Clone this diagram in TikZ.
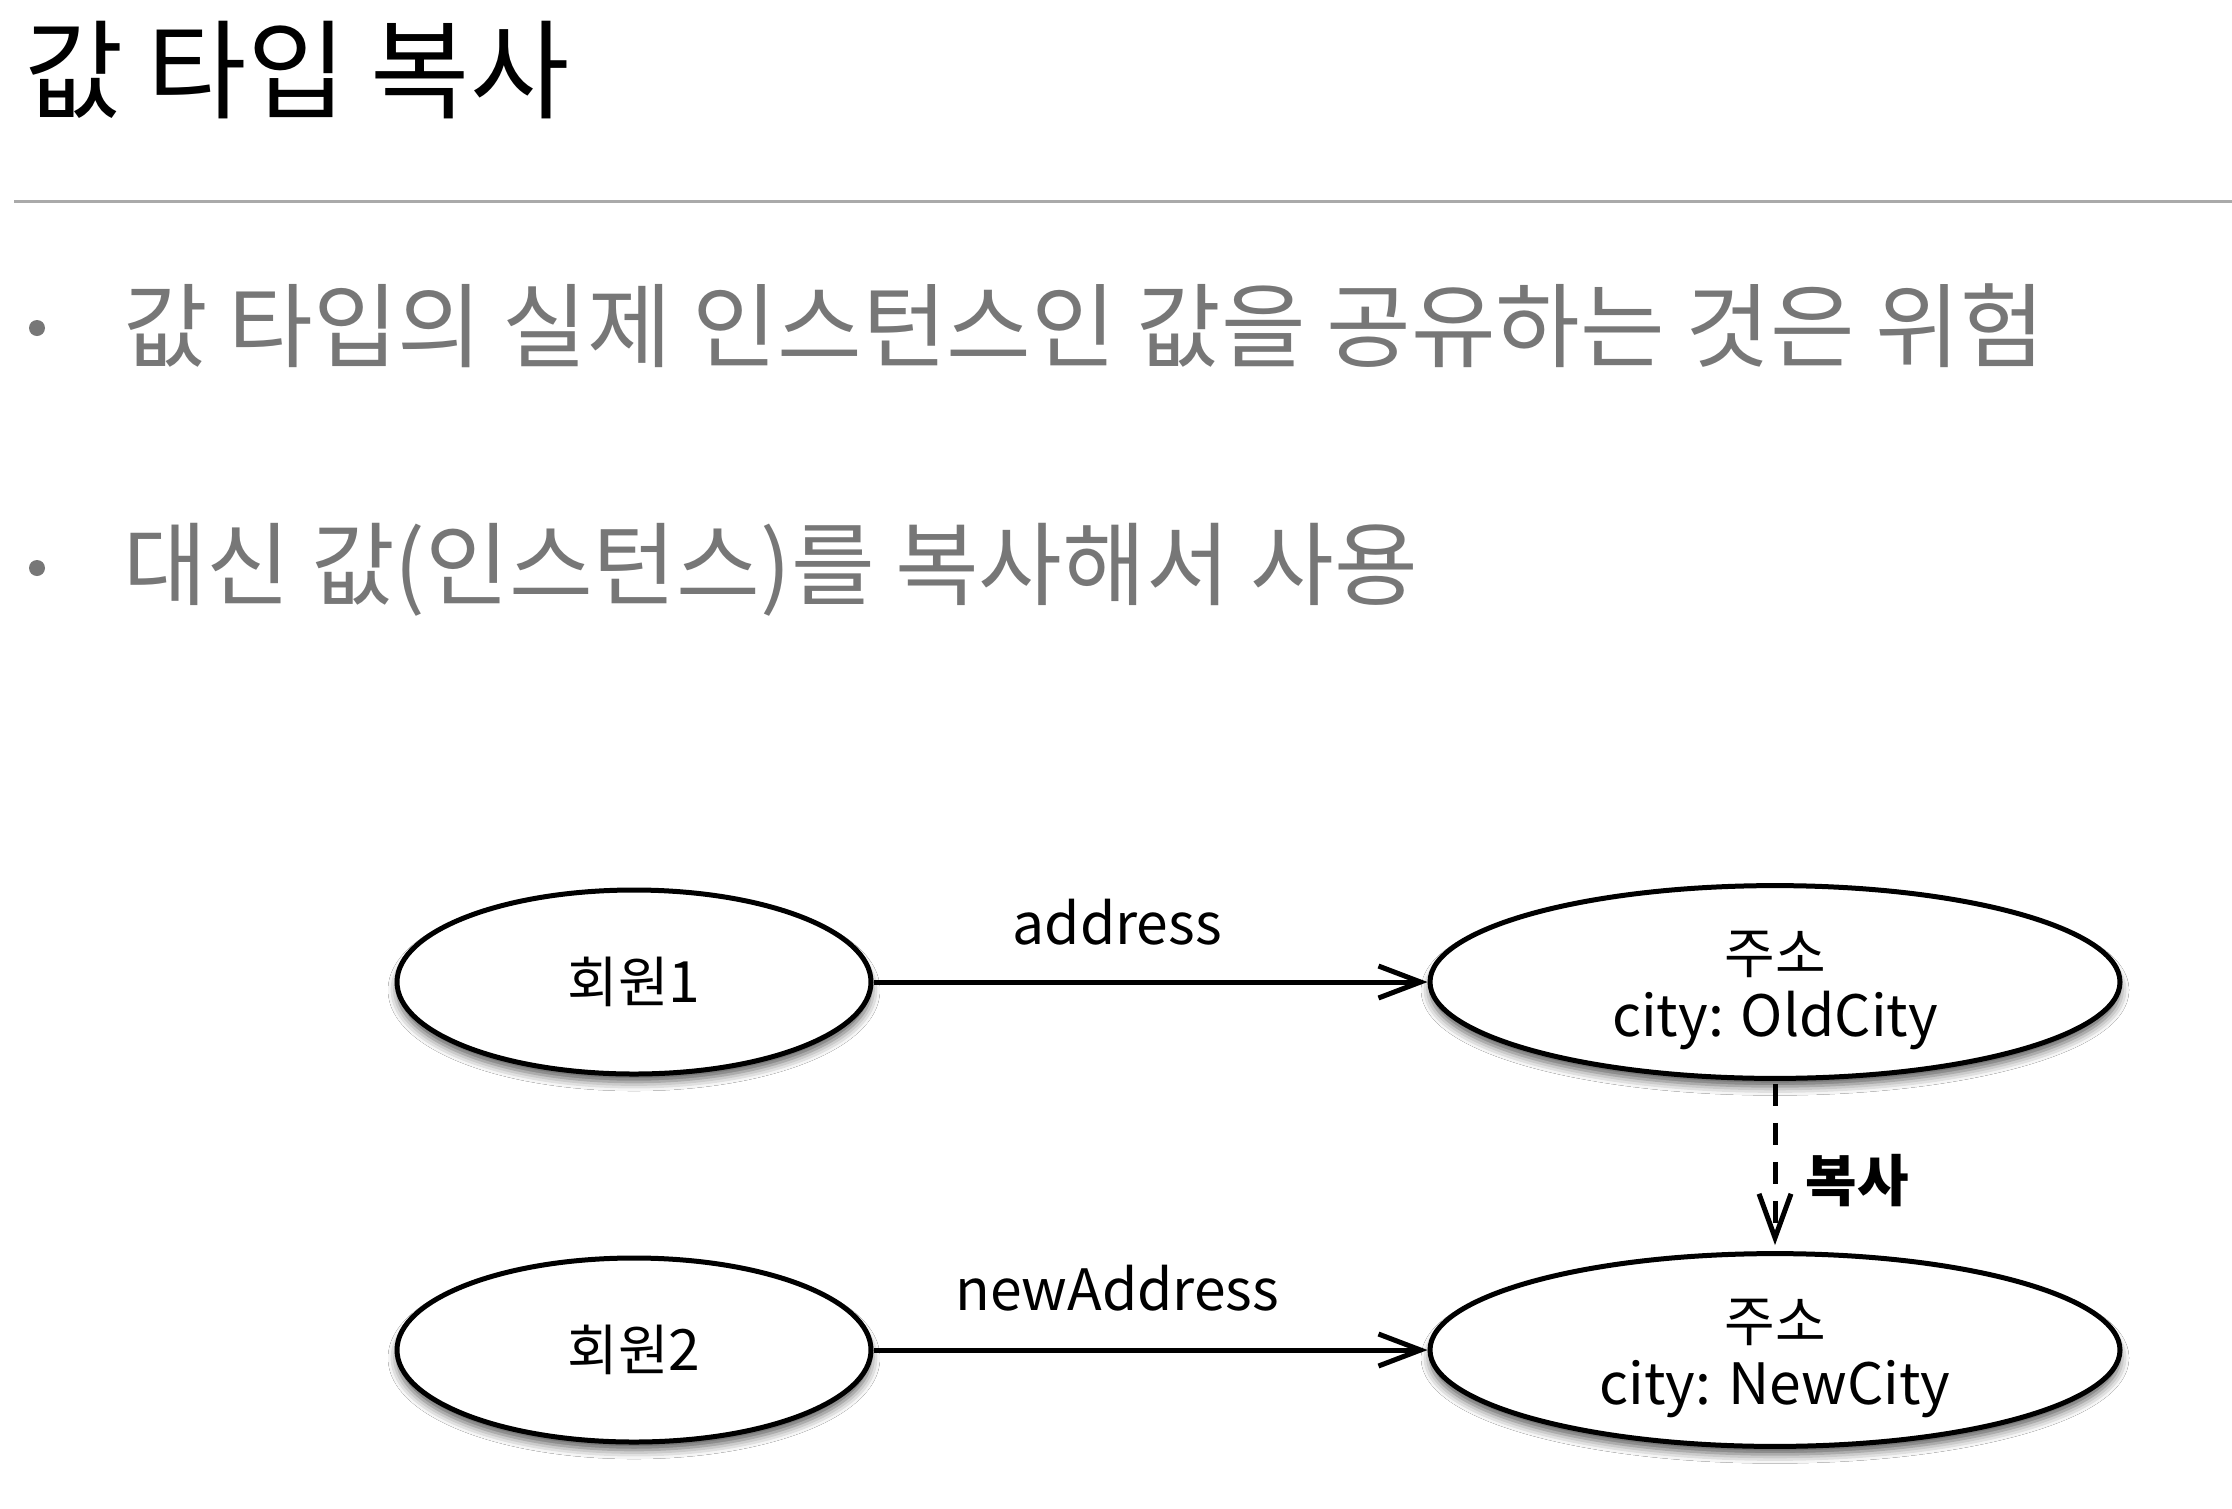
\documentclass[tikz,border=0pt]{standalone}
\usepackage{fontspec}
\setmainfont{Noto Sans CJK KR}
\usetikzlibrary{arrows.meta,shapes.geometric,shadows.blur}
\definecolor{bulletgray}{HTML}{777777}
\definecolor{rulegray}{HTML}{AAAAAA}
\newcommand\latn[1]{{\fontsize{57pt}{63pt}\selectfont #1}}
\newcommand\topstrut{\rule{0pt}{60pt}}
\tikzset{
  titletext/.style={anchor=base west, inner sep=0pt, font=\fontsize{108pt}{118pt}\selectfont, text=black},
  bullettext/.style={anchor=base west, inner sep=0pt, font=\fontsize{92pt}{100pt}\selectfont, text=bulletgray},
  bulletdot/.style={circle, fill=bulletgray, inner sep=0pt, minimum size=16pt},
  entity/.style={ellipse, draw, line width=5pt, fill=white, inner sep=0pt,
    minimum height=184pt, align=center,
    font=\fontsize{55pt}{63pt}\selectfont,
    blur shadow={shadow xshift=0pt, shadow yshift=-8pt, shadow blur radius=9pt, shadow opacity=65}},
  member/.style={entity, minimum width=474pt},
  addr/.style={entity, minimum width=690pt},
  ref/.style={line width=5pt, -{Straight Barb[length=42pt,width=32pt]}},
  copyref/.style={line width=5pt, dash pattern=on 22pt off 17pt, -{Straight Barb[length=44pt,width=32pt]}},
  lbl/.style={inner sep=0pt, font=\fontsize{57pt}{63pt}\selectfont},
  boldlbl/.style={inner sep=0pt, font=\fontsize{56pt}{63pt}\selectfont\bfseries},
}
\begin{document}
\begin{tikzpicture}[x=1pt,y=-1pt]
\useasboundingbox[fill=white] (0,0) rectangle (2232,1508);
% title and rule
\node[titletext] (title) at (24,110) {값 타입 복사};
\coordinate (ruleL) at (14,201);
\coordinate (ruleR) at (2232,201);
\draw[rulegray, line width=3pt] (ruleL) -- (ruleR);
% bullets
\node[bulletdot] (d1) at (37,328) {};
\node[bullettext] (b1) at (123,360) {값 타입의 실제 인스턴스인 값을 공유하는 것은 위험};
\node[bulletdot] (d2) at (37,568) {};
\node[bullettext, font=\fontsize{91pt}{100pt}\selectfont] (b2) at (123,598) {대신 값(인스턴스)를 복사해서 사용};
% diagram
\node[member] (m1) at (634,982) {회원\latn{1}};
\node[addr] (a1) at (1775,982) {\topstrut 주소\\\latn{city: OldCity}};
\node[member] (m2) at (634,1350) {회원\latn{2}};
\node[addr] (a2) at (1775,1350) {\topstrut 주소\\\latn{city: NewCity}};
\draw[ref] (m1.east) -- node[lbl, pos=0.44, above=34pt] (l1) {address} (a1.west);
\draw[ref] (m2.east) -- node[lbl, pos=0.44, above=36pt] (l2) {newAddress} (a2.west);
\draw[copyref] ([yshift=-3pt]a1.south) -- node[boldlbl, pos=0.6, right=28pt] (l3) {복사} ([yshift=6pt]a2.north);
\end{tikzpicture}
\end{document}
